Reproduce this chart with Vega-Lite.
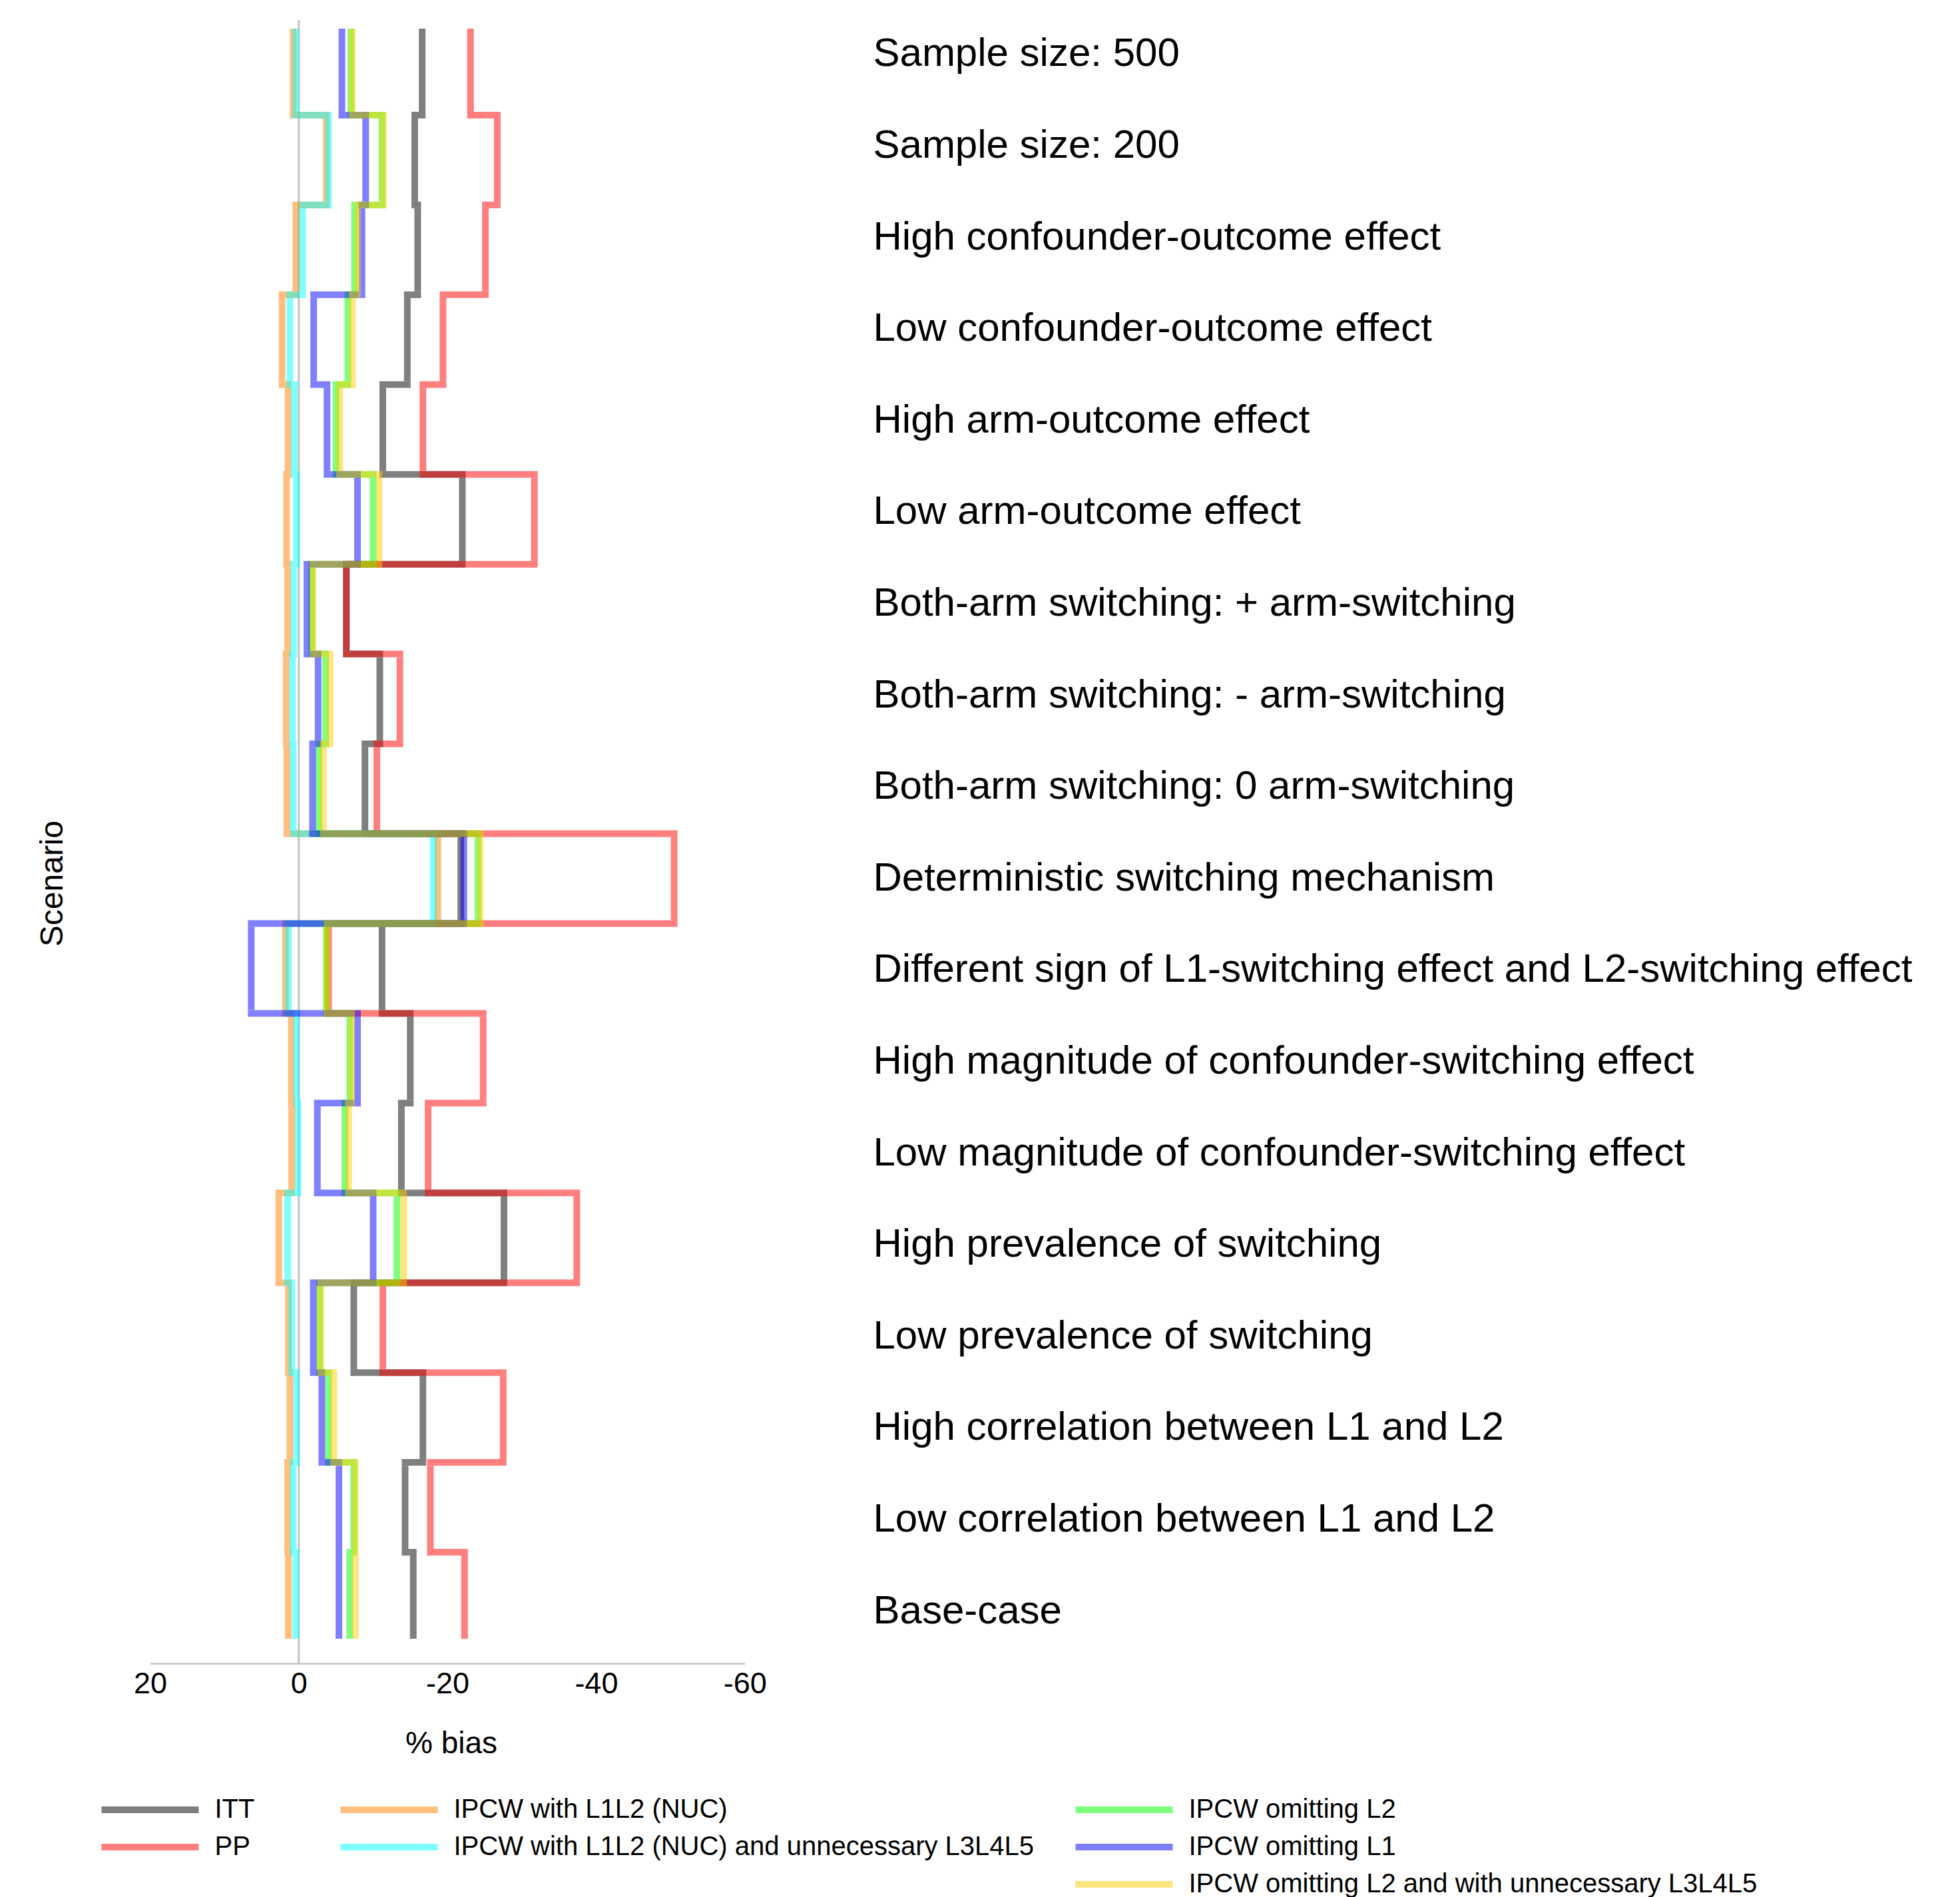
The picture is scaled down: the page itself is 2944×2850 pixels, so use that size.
{
  "$schema": "https://vega.github.io/schema/vega-lite/v6.json",
  "width": 893.2,
  "height": 2469,
  "autosize": {"type": "none"},
  "padding": {"left": 225.5, "top": 30, "right": 1825.3, "bottom": 351},
  "background": "white",
  "config": {"view": {"stroke": null}, "font": "Liberation Sans"},
  "data": {"values": [
    {"scenario": "Sample size: 500", "method": "ITT", "bias": -16.6},
    {"scenario": "Sample size: 500", "method": "PP", "bias": -23.1},
    {"scenario": "Sample size: 500", "method": "IPCW with L1L2 (NUC)", "bias": 0.75},
    {"scenario": "Sample size: 500", "method": "IPCW with L1L2 (NUC) and unnecessary L3L4L5", "bias": 0.4},
    {"scenario": "Sample size: 500", "method": "IPCW omitting L2", "bias": -7.0},
    {"scenario": "Sample size: 500", "method": "IPCW omitting L1", "bias": -5.8},
    {"scenario": "Sample size: 500", "method": "IPCW omitting L2 and with unnecessary L3L4L5", "bias": -7.2},
    {"scenario": "Sample size: 200", "method": "ITT", "bias": -15.6},
    {"scenario": "Sample size: 200", "method": "PP", "bias": -26.7},
    {"scenario": "Sample size: 200", "method": "IPCW with L1L2 (NUC)", "bias": -3.7},
    {"scenario": "Sample size: 200", "method": "IPCW with L1L2 (NUC) and unnecessary L3L4L5", "bias": -4.0},
    {"scenario": "Sample size: 200", "method": "IPCW omitting L2", "bias": -11.2},
    {"scenario": "Sample size: 200", "method": "IPCW omitting L1", "bias": -9.0},
    {"scenario": "Sample size: 200", "method": "IPCW omitting L2 and with unnecessary L3L4L5", "bias": -11.4},
    {"scenario": "High confounder-outcome effect", "method": "ITT", "bias": -16.0},
    {"scenario": "High confounder-outcome effect", "method": "PP", "bias": -25.1},
    {"scenario": "High confounder-outcome effect", "method": "IPCW with L1L2 (NUC)", "bias": 0.4},
    {"scenario": "High confounder-outcome effect", "method": "IPCW with L1L2 (NUC) and unnecessary L3L4L5", "bias": -0.5},
    {"scenario": "High confounder-outcome effect", "method": "IPCW omitting L2", "bias": -7.5},
    {"scenario": "High confounder-outcome effect", "method": "IPCW omitting L1", "bias": -8.5},
    {"scenario": "High confounder-outcome effect", "method": "IPCW omitting L2 and with unnecessary L3L4L5", "bias": -7.9},
    {"scenario": "Low confounder-outcome effect", "method": "ITT", "bias": -14.6},
    {"scenario": "Low confounder-outcome effect", "method": "PP", "bias": -19.4},
    {"scenario": "Low confounder-outcome effect", "method": "IPCW with L1L2 (NUC)", "bias": 2.25},
    {"scenario": "Low confounder-outcome effect", "method": "IPCW with L1L2 (NUC) and unnecessary L3L4L5", "bias": 1.2},
    {"scenario": "Low confounder-outcome effect", "method": "IPCW omitting L2", "bias": -6.6},
    {"scenario": "Low confounder-outcome effect", "method": "IPCW omitting L1", "bias": -2.0},
    {"scenario": "Low confounder-outcome effect", "method": "IPCW omitting L2 and with unnecessary L3L4L5", "bias": -7.2},
    {"scenario": "High arm-outcome effect", "method": "ITT", "bias": -11.3},
    {"scenario": "High arm-outcome effect", "method": "PP", "bias": -16.7},
    {"scenario": "High arm-outcome effect", "method": "IPCW with L1L2 (NUC)", "bias": 1.45},
    {"scenario": "High arm-outcome effect", "method": "IPCW with L1L2 (NUC) and unnecessary L3L4L5", "bias": 0.6},
    {"scenario": "High arm-outcome effect", "method": "IPCW omitting L2", "bias": -5.0},
    {"scenario": "High arm-outcome effect", "method": "IPCW omitting L1", "bias": -3.8},
    {"scenario": "High arm-outcome effect", "method": "IPCW omitting L2 and with unnecessary L3L4L5", "bias": -5.5},
    {"scenario": "Low arm-outcome effect", "method": "ITT", "bias": -22.0},
    {"scenario": "Low arm-outcome effect", "method": "PP", "bias": -31.7},
    {"scenario": "Low arm-outcome effect", "method": "IPCW with L1L2 (NUC)", "bias": 1.65},
    {"scenario": "Low arm-outcome effect", "method": "IPCW with L1L2 (NUC) and unnecessary L3L4L5", "bias": 0.3},
    {"scenario": "Low arm-outcome effect", "method": "IPCW omitting L2", "bias": -10.0},
    {"scenario": "Low arm-outcome effect", "method": "IPCW omitting L1", "bias": -7.9},
    {"scenario": "Low arm-outcome effect", "method": "IPCW omitting L2 and with unnecessary L3L4L5", "bias": -10.8},
    {"scenario": "Both-arm switching: + arm-switching", "method": "ITT", "bias": -6.4},
    {"scenario": "Both-arm switching: + arm-switching", "method": "PP", "bias": -6.4},
    {"scenario": "Both-arm switching: + arm-switching", "method": "IPCW with L1L2 (NUC)", "bias": 1.5},
    {"scenario": "Both-arm switching: + arm-switching", "method": "IPCW with L1L2 (NUC) and unnecessary L3L4L5", "bias": 0.67},
    {"scenario": "Both-arm switching: + arm-switching", "method": "IPCW omitting L2", "bias": -1.75},
    {"scenario": "Both-arm switching: + arm-switching", "method": "IPCW omitting L1", "bias": -1.1},
    {"scenario": "Both-arm switching: + arm-switching", "method": "IPCW omitting L2 and with unnecessary L3L4L5", "bias": -1.9},
    {"scenario": "Both-arm switching: - arm-switching", "method": "ITT", "bias": -10.9},
    {"scenario": "Both-arm switching: - arm-switching", "method": "PP", "bias": -13.6},
    {"scenario": "Both-arm switching: - arm-switching", "method": "IPCW with L1L2 (NUC)", "bias": 1.7},
    {"scenario": "Both-arm switching: - arm-switching", "method": "IPCW with L1L2 (NUC) and unnecessary L3L4L5", "bias": 0.84},
    {"scenario": "Both-arm switching: - arm-switching", "method": "IPCW omitting L2", "bias": -3.6},
    {"scenario": "Both-arm switching: - arm-switching", "method": "IPCW omitting L1", "bias": -2.6},
    {"scenario": "Both-arm switching: - arm-switching", "method": "IPCW omitting L2 and with unnecessary L3L4L5", "bias": -4.2},
    {"scenario": "Both-arm switching: 0 arm-switching", "method": "ITT", "bias": -8.9},
    {"scenario": "Both-arm switching: 0 arm-switching", "method": "PP", "bias": -10.5},
    {"scenario": "Both-arm switching: 0 arm-switching", "method": "IPCW with L1L2 (NUC)", "bias": 1.6},
    {"scenario": "Both-arm switching: 0 arm-switching", "method": "IPCW with L1L2 (NUC) and unnecessary L3L4L5", "bias": 0.75},
    {"scenario": "Both-arm switching: 0 arm-switching", "method": "IPCW omitting L2", "bias": -2.7},
    {"scenario": "Both-arm switching: 0 arm-switching", "method": "IPCW omitting L1", "bias": -1.85},
    {"scenario": "Both-arm switching: 0 arm-switching", "method": "IPCW omitting L2 and with unnecessary L3L4L5", "bias": -3.3},
    {"scenario": "Deterministic switching mechanism", "method": "ITT", "bias": -21.8},
    {"scenario": "Deterministic switching mechanism", "method": "PP", "bias": -50.5},
    {"scenario": "Deterministic switching mechanism", "method": "IPCW with L1L2 (NUC)", "bias": -18.7},
    {"scenario": "Deterministic switching mechanism", "method": "IPCW with L1L2 (NUC) and unnecessary L3L4L5", "bias": -18.1},
    {"scenario": "Deterministic switching mechanism", "method": "IPCW omitting L2", "bias": -24.1},
    {"scenario": "Deterministic switching mechanism", "method": "IPCW omitting L1", "bias": -22.2},
    {"scenario": "Deterministic switching mechanism", "method": "IPCW omitting L2 and with unnecessary L3L4L5", "bias": -24.4},
    {"scenario": "Different sign of L1-switching effect and L2-switching effect", "method": "ITT", "bias": -11.2},
    {"scenario": "Different sign of L1-switching effect and L2-switching effect", "method": "PP", "bias": -4.0},
    {"scenario": "Different sign of L1-switching effect and L2-switching effect", "method": "IPCW with L1L2 (NUC)", "bias": 1.8},
    {"scenario": "Different sign of L1-switching effect and L2-switching effect", "method": "IPCW with L1L2 (NUC) and unnecessary L3L4L5", "bias": 1.4},
    {"scenario": "Different sign of L1-switching effect and L2-switching effect", "method": "IPCW omitting L2", "bias": -3.7},
    {"scenario": "Different sign of L1-switching effect and L2-switching effect", "method": "IPCW omitting L1", "bias": 6.4},
    {"scenario": "Different sign of L1-switching effect and L2-switching effect", "method": "IPCW omitting L2 and with unnecessary L3L4L5", "bias": -3.8},
    {"scenario": "High magnitude of confounder-switching effect", "method": "ITT", "bias": -15.0},
    {"scenario": "High magnitude of confounder-switching effect", "method": "PP", "bias": -24.8},
    {"scenario": "High magnitude of confounder-switching effect", "method": "IPCW with L1L2 (NUC)", "bias": 1.0},
    {"scenario": "High magnitude of confounder-switching effect", "method": "IPCW with L1L2 (NUC) and unnecessary L3L4L5", "bias": 0.3},
    {"scenario": "High magnitude of confounder-switching effect", "method": "IPCW omitting L2", "bias": -6.85},
    {"scenario": "High magnitude of confounder-switching effect", "method": "IPCW omitting L1", "bias": -7.9},
    {"scenario": "High magnitude of confounder-switching effect", "method": "IPCW omitting L2 and with unnecessary L3L4L5", "bias": -7.1},
    {"scenario": "Low magnitude of confounder-switching effect", "method": "ITT", "bias": -13.8},
    {"scenario": "Low magnitude of confounder-switching effect", "method": "PP", "bias": -17.4},
    {"scenario": "Low magnitude of confounder-switching effect", "method": "IPCW with L1L2 (NUC)", "bias": 0.95},
    {"scenario": "Low magnitude of confounder-switching effect", "method": "IPCW with L1L2 (NUC) and unnecessary L3L4L5", "bias": 0.1},
    {"scenario": "Low magnitude of confounder-switching effect", "method": "IPCW omitting L2", "bias": -6.2},
    {"scenario": "Low magnitude of confounder-switching effect", "method": "IPCW omitting L1", "bias": -2.5},
    {"scenario": "Low magnitude of confounder-switching effect", "method": "IPCW omitting L2 and with unnecessary L3L4L5", "bias": -6.7},
    {"scenario": "High prevalence of switching", "method": "ITT", "bias": -27.6},
    {"scenario": "High prevalence of switching", "method": "PP", "bias": -37.4},
    {"scenario": "High prevalence of switching", "method": "IPCW with L1L2 (NUC)", "bias": 2.7},
    {"scenario": "High prevalence of switching", "method": "IPCW with L1L2 (NUC) and unnecessary L3L4L5", "bias": 1.5},
    {"scenario": "High prevalence of switching", "method": "IPCW omitting L2", "bias": -13.2},
    {"scenario": "High prevalence of switching", "method": "IPCW omitting L1", "bias": -10.0},
    {"scenario": "High prevalence of switching", "method": "IPCW omitting L2 and with unnecessary L3L4L5", "bias": -14.1},
    {"scenario": "Low prevalence of switching", "method": "ITT", "bias": -7.4},
    {"scenario": "Low prevalence of switching", "method": "PP", "bias": -11.3},
    {"scenario": "Low prevalence of switching", "method": "IPCW with L1L2 (NUC)", "bias": 1.4},
    {"scenario": "Low prevalence of switching", "method": "IPCW with L1L2 (NUC) and unnecessary L3L4L5", "bias": 0.95},
    {"scenario": "Low prevalence of switching", "method": "IPCW omitting L2", "bias": -2.8},
    {"scenario": "Low prevalence of switching", "method": "IPCW omitting L1", "bias": -1.95},
    {"scenario": "Low prevalence of switching", "method": "IPCW omitting L2 and with unnecessary L3L4L5", "bias": -2.95},
    {"scenario": "High correlation between L1 and L2", "method": "ITT", "bias": -16.7},
    {"scenario": "High correlation between L1 and L2", "method": "PP", "bias": -27.5},
    {"scenario": "High correlation between L1 and L2", "method": "IPCW with L1L2 (NUC)", "bias": 1.2},
    {"scenario": "High correlation between L1 and L2", "method": "IPCW with L1L2 (NUC) and unnecessary L3L4L5", "bias": 0.3},
    {"scenario": "High correlation between L1 and L2", "method": "IPCW omitting L2", "bias": -4.0},
    {"scenario": "High correlation between L1 and L2", "method": "IPCW omitting L1", "bias": -3.1},
    {"scenario": "High correlation between L1 and L2", "method": "IPCW omitting L2 and with unnecessary L3L4L5", "bias": -4.7},
    {"scenario": "Low correlation between L1 and L2", "method": "ITT", "bias": -14.3},
    {"scenario": "Low correlation between L1 and L2", "method": "PP", "bias": -17.7},
    {"scenario": "Low correlation between L1 and L2", "method": "IPCW with L1L2 (NUC)", "bias": 1.5},
    {"scenario": "Low correlation between L1 and L2", "method": "IPCW with L1L2 (NUC) and unnecessary L3L4L5", "bias": 0.75},
    {"scenario": "Low correlation between L1 and L2", "method": "IPCW omitting L2", "bias": -7.4},
    {"scenario": "Low correlation between L1 and L2", "method": "IPCW omitting L1", "bias": -5.4},
    {"scenario": "Low correlation between L1 and L2", "method": "IPCW omitting L2 and with unnecessary L3L4L5", "bias": -7.6},
    {"scenario": "Base-case", "method": "ITT", "bias": -15.4},
    {"scenario": "Base-case", "method": "PP", "bias": -22.3},
    {"scenario": "Base-case", "method": "IPCW with L1L2 (NUC)", "bias": 1.4},
    {"scenario": "Base-case", "method": "IPCW with L1L2 (NUC) and unnecessary L3L4L5", "bias": 0.4},
    {"scenario": "Base-case", "method": "IPCW omitting L2", "bias": -6.85},
    {"scenario": "Base-case", "method": "IPCW omitting L1", "bias": -5.4},
    {"scenario": "Base-case", "method": "IPCW omitting L2 and with unnecessary L3L4L5", "bias": -7.6}
  ]},
  "layer": [
    {
      "data": {"values": [{"ref": 0}]},
      "mark": {"type": "rule", "color": "#c4c4c4", "strokeWidth": 3},
      "encoding": {"x": {"field": "ref", "type": "quantitative"}}
    },
    {
      "transform": [
        {"filter": {"field": "method", "oneOf": ["ITT", "PP"]}},
        {"window": [{"op": "lead", "field": "bias", "as": "next_bias"}], "groupby": ["method"]}
      ],
      "encoding": {
        "x": {"field": "bias", "type": "quantitative",
          "scale": {"domain": [-60, 20], "reverse": true, "nice": false, "zero": false},
          "axis": {"values": [20, 0, -20, -40, -60], "labelExpr": "datum.value + ''", "ticks": false, "tickSize": 0, "grid": false,
            "domainColor": "#cccccc", "domainWidth": 3, "labelFontSize": 45, "labelColor": "black",
            "labelFont": "Liberation Sans", "labelPadding": 8, "labelFlush": false, "labelOverlap": false,
            "title": "% bias", "titleFontSize": 46, "titleFontWeight": "normal", "titleColor": "black",
            "titleFont": "Liberation Sans", "titleX": 452, "titleY": 120, "titleBaseline": "middle", "titleAlign": "center"}},
        "y": {"field": "scenario", "type": "nominal", "sort": null,
          "scale": {"type": "band", "domain": ["Sample size: 500", "Sample size: 200", "High confounder-outcome effect", "Low confounder-outcome effect", "High arm-outcome effect", "Low arm-outcome effect", "Both-arm switching: + arm-switching", "Both-arm switching: - arm-switching", "Both-arm switching: 0 arm-switching", "Deterministic switching mechanism", "Different sign of L1-switching effect and L2-switching effect", "High magnitude of confounder-switching effect", "Low magnitude of confounder-switching effect", "High prevalence of switching", "Low prevalence of switching", "High correlation between L1 and L2", "Low correlation between L1 and L2", "Base-case"],
            "range": [8, 2437], "paddingInner": 0, "paddingOuter": 0},
          "axis": {"orient": "left", "labels": false, "ticks": false, "domain": false, "grid": false,
            "title": "Scenario", "titleFontSize": 48, "titleFont": "Liberation Sans", "titleFontWeight": "normal",
            "titleColor": "black", "titleX": -146.5, "titleY": 1297, "titleAngle": 270, "titleBaseline": "middle", "titleAlign": "center"}},
        "color": {"field": "method", "type": "nominal",
          "scale": {"domain": ["ITT", "PP"], "range": ["#000000", "#ff0000"]},
          "legend": {"orient": "none", "legendX": -20, "legendY": 2669, "direction": "vertical", "title": null,
            "symbolType": "M-7,0H7", "symbolSize": 435, "symbolStrokeWidth": 10, "symbolOpacity": 0.5, "symbolOffset": 0,
            "labelFontSize": 40, "labelFont": "Liberation Sans", "labelColor": "black", "labelOffset": 77,
            "labelLimit": 0, "rowPadding": 16, "padding": 0}}
      },
      "layer": [
        {
          "transform": [{"filter": "datum.next_bias != null"}],
          "mark": {"type": "rule", "strokeWidth": 10, "strokeCap": "square", "opacity": 0.5, "yOffset": 67.47},
          "encoding": {"x2": {"field": "next_bias"}}
        },
        {
          "mark": {"type": "tick", "thickness": 10, "size": 124.9, "opacity": 0.5}
        }
      ]
    },
    {
      "transform": [
        {"filter": {"field": "method", "oneOf": ["IPCW with L1L2 (NUC)", "IPCW with L1L2 (NUC) and unnecessary L3L4L5"]}},
        {"window": [{"op": "lead", "field": "bias", "as": "next_bias"}], "groupby": ["method"]}
      ],
      "encoding": {
        "x": {"field": "bias", "type": "quantitative",
          "scale": {"domain": [-60, 20], "reverse": true, "nice": false, "zero": false}},
        "y": {"field": "scenario", "type": "nominal", "sort": null,
          "scale": {"type": "band", "domain": ["Sample size: 500", "Sample size: 200", "High confounder-outcome effect", "Low confounder-outcome effect", "High arm-outcome effect", "Low arm-outcome effect", "Both-arm switching: + arm-switching", "Both-arm switching: - arm-switching", "Both-arm switching: 0 arm-switching", "Deterministic switching mechanism", "Different sign of L1-switching effect and L2-switching effect", "High magnitude of confounder-switching effect", "Low magnitude of confounder-switching effect", "High prevalence of switching", "Low prevalence of switching", "High correlation between L1 and L2", "Low correlation between L1 and L2", "Base-case"],
            "range": [8, 2437], "paddingInner": 0, "paddingOuter": 0},
          "axis": null},
        "color": {"field": "method", "type": "nominal",
          "scale": {"domain": ["IPCW with L1L2 (NUC)", "IPCW with L1L2 (NUC) and unnecessary L3L4L5"], "range": ["#ff8000", "#00ffff"]},
          "legend": {"orient": "none", "legendX": 339, "legendY": 2669, "direction": "vertical", "title": null,
            "symbolType": "M-7,0H7", "symbolSize": 435, "symbolStrokeWidth": 10, "symbolOpacity": 0.5, "symbolOffset": 0,
            "labelFontSize": 40, "labelFont": "Liberation Sans", "labelColor": "black", "labelOffset": 77,
            "labelLimit": 0, "rowPadding": 16, "padding": 0}}
      },
      "layer": [
        {
          "transform": [{"filter": "datum.next_bias != null"}],
          "mark": {"type": "rule", "strokeWidth": 10, "strokeCap": "square", "opacity": 0.5, "yOffset": 67.47},
          "encoding": {"x2": {"field": "next_bias"}}
        },
        {
          "mark": {"type": "tick", "thickness": 10, "size": 124.9, "opacity": 0.5}
        }
      ]
    },
    {
      "transform": [
        {"filter": {"field": "method", "oneOf": ["IPCW omitting L2", "IPCW omitting L1", "IPCW omitting L2 and with unnecessary L3L4L5"]}},
        {"window": [{"op": "lead", "field": "bias", "as": "next_bias"}], "groupby": ["method"]}
      ],
      "encoding": {
        "x": {"field": "bias", "type": "quantitative",
          "scale": {"domain": [-60, 20], "reverse": true, "nice": false, "zero": false}},
        "y": {"field": "scenario", "type": "nominal", "sort": null,
          "scale": {"type": "band", "domain": ["Sample size: 500", "Sample size: 200", "High confounder-outcome effect", "Low confounder-outcome effect", "High arm-outcome effect", "Low arm-outcome effect", "Both-arm switching: + arm-switching", "Both-arm switching: - arm-switching", "Both-arm switching: 0 arm-switching", "Deterministic switching mechanism", "Different sign of L1-switching effect and L2-switching effect", "High magnitude of confounder-switching effect", "Low magnitude of confounder-switching effect", "High prevalence of switching", "Low prevalence of switching", "High correlation between L1 and L2", "Low correlation between L1 and L2", "Base-case"],
            "range": [8, 2437], "paddingInner": 0, "paddingOuter": 0},
          "axis": null},
        "color": {"field": "method", "type": "nominal",
          "scale": {"domain": ["IPCW omitting L2", "IPCW omitting L1", "IPCW omitting L2 and with unnecessary L3L4L5"], "range": ["#00ff00", "#0000ff", "#ffcc00"]},
          "legend": {"orient": "none", "legendX": 1443, "legendY": 2669, "direction": "vertical", "title": null,
            "symbolType": "M-7,0H7", "symbolSize": 435, "symbolStrokeWidth": 10, "symbolOpacity": 0.5, "symbolOffset": 0,
            "labelFontSize": 40, "labelFont": "Liberation Sans", "labelColor": "black", "labelOffset": 77,
            "labelLimit": 0, "rowPadding": 16, "padding": 0}}
      },
      "layer": [
        {
          "transform": [{"filter": "datum.next_bias != null"}],
          "mark": {"type": "rule", "strokeWidth": 10, "strokeCap": "square", "opacity": 0.5, "yOffset": 67.47},
          "encoding": {"x2": {"field": "next_bias"}}
        },
        {
          "mark": {"type": "tick", "thickness": 10, "size": 124.9, "opacity": 0.5}
        }
      ]
    },
    {
      "mark": {"type": "tick", "opacity": 0},
      "encoding": {
        "y": {"field": "scenario", "type": "nominal", "sort": null,
          "scale": {"type": "band", "domain": ["Sample size: 500", "Sample size: 200", "High confounder-outcome effect", "Low confounder-outcome effect", "High arm-outcome effect", "Low arm-outcome effect", "Both-arm switching: + arm-switching", "Both-arm switching: - arm-switching", "Both-arm switching: 0 arm-switching", "Deterministic switching mechanism", "Different sign of L1-switching effect and L2-switching effect", "High magnitude of confounder-switching effect", "Low magnitude of confounder-switching effect", "High prevalence of switching", "Low prevalence of switching", "High correlation between L1 and L2", "Low correlation between L1 and L2", "Base-case"],
            "range": [-17.35, 2459.35], "paddingInner": 0, "paddingOuter": 0},
          "axis": {"orient": "right", "ticks": false, "tickSize": 0, "domain": false, "grid": false,
            "labelPadding": 192.3, "labelFontSize": 60, "labelFont": "Liberation Sans", "labelColor": "black",
            "labelAlign": "left", "labelBaseline": "middle", "labelLimit": 0, "labelOverlap": false, "title": null}}
      }
    }
  ],
  "resolve": {
    "scale": {"y": "independent", "color": "independent"},
    "axis": {"y": "independent"},
    "legend": {"color": "independent"}
  }
}
